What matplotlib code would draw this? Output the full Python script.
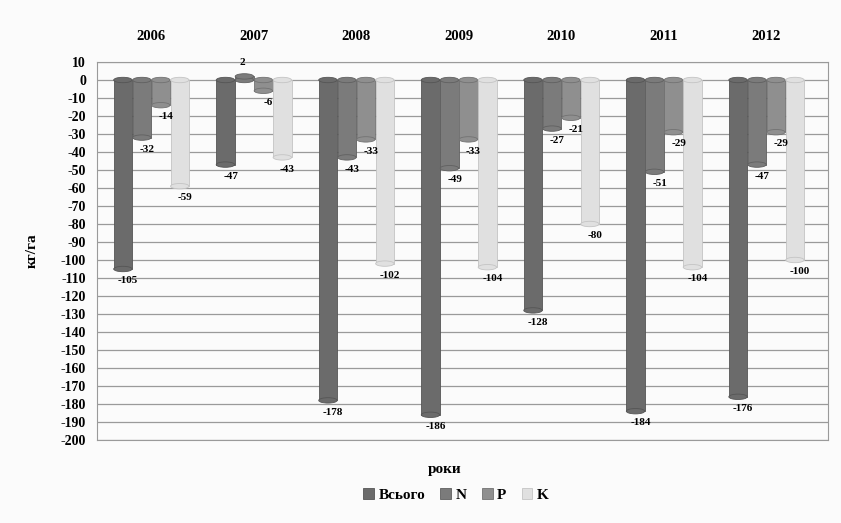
import matplotlib.pyplot as plt
import numpy as np
from matplotlib.patches import Ellipse

years = ["2006", "2007", "2008", "2009", "2010", "2011", "2012"]
series = ["Всього", "N", "P", "K"]
vsogo = [-105, -47, -178, -186, -128, -184, -176]
n_vals = [-32, 2, -43, -49, -27, -51, -47]
p_vals = [-14, -6, -33, -33, -21, -29, -29]
k_vals = [-59, -43, -102, -104, -80, -104, -100]
y_ticks = list(range(10, -201, -10))

plt.rcParams["font.family"] = ["Liberation Serif", "DejaVu Serif"]

colors = ["#6b6b6b", "#7b7b7b", "#8f8f8f", "#e0e0e0"]
edges = ["#555555", "#606060", "#727272", "#c4c4c4"]

fig = plt.figure(figsize=(8.41, 5.23), dpi=100)
fig.patch.set_facecolor("#fbfbfb")
ax = fig.add_axes([97 / 841, 1 - 440 / 523, 731 / 841, 378 / 523])
ax.set_facecolor("#fbfbfb")

width = 0.185
offsets = (np.arange(4) - 1.5) * width
x = np.arange(len(years))
all_vals = [vsogo, n_vals, p_vals, k_vals]

for s, vals in enumerate(all_vals):
    ax.bar(x + offsets[s], vals, width=width * 0.97, color=colors[s],
           edgecolor=edges[s], linewidth=0.6, label=series[s], zorder=3)
    for i, v in enumerate(vals):
        # cylinder end caps
        ax.add_patch(Ellipse((x[i] + offsets[s], 0), width * 0.97, 3.0,
                             facecolor=colors[s], edgecolor=edges[s],
                             linewidth=0.6, zorder=4))
        ax.add_patch(Ellipse((x[i] + offsets[s], v), width * 0.97, 3.0,
                             facecolor=colors[s], edgecolor=edges[s],
                             linewidth=0.6, zorder=4))
        if v >= 0:
            ax.text(x[i] + offsets[s] - 0.02, v + 5, str(v), ha="center",
                    va="bottom", fontsize=8, fontweight="bold", zorder=5)
        else:
            ax.text(x[i] + offsets[s] + 0.05, v - 4, str(v), ha="center",
                    va="top", fontsize=8, fontweight="bold", zorder=5)

ax.set_xlim(-0.53, 6.6)
ax.set_ylim(-200, 10)
ax.set_yticks(y_ticks)
ax.set_yticklabels([str(t) for t in y_ticks], fontsize=10, fontweight="bold")
ax.set_xticks(x)
ax.set_xticklabels(years, fontsize=10.5, fontweight="bold")
ax.xaxis.tick_top()
ax.tick_params(axis="x", length=0, pad=14)
ax.tick_params(axis="y", length=0, pad=8)
ax.grid(axis="y", color="#9a9a9a", linewidth=0.9, zorder=0)
for sp in ax.spines.values():
    sp.set_color("#9a9a9a")

ax.set_ylabel("кг/га", fontsize=11, fontweight="bold", labelpad=16)
fig.text(445 / 841, 1 - 470 / 523, "роки", ha="center", va="center",
         fontsize=11, fontweight="bold")
fig.legend(loc="center", bbox_to_anchor=(456 / 841, 1 - 495 / 523), ncol=4,
           frameon=False, handlelength=0.7, handleheight=0.7,
           handletextpad=0.3, columnspacing=1.0,
           prop={"weight": "bold", "size": 11})

fig.savefig("out.png", dpi=100, facecolor=fig.get_facecolor())
